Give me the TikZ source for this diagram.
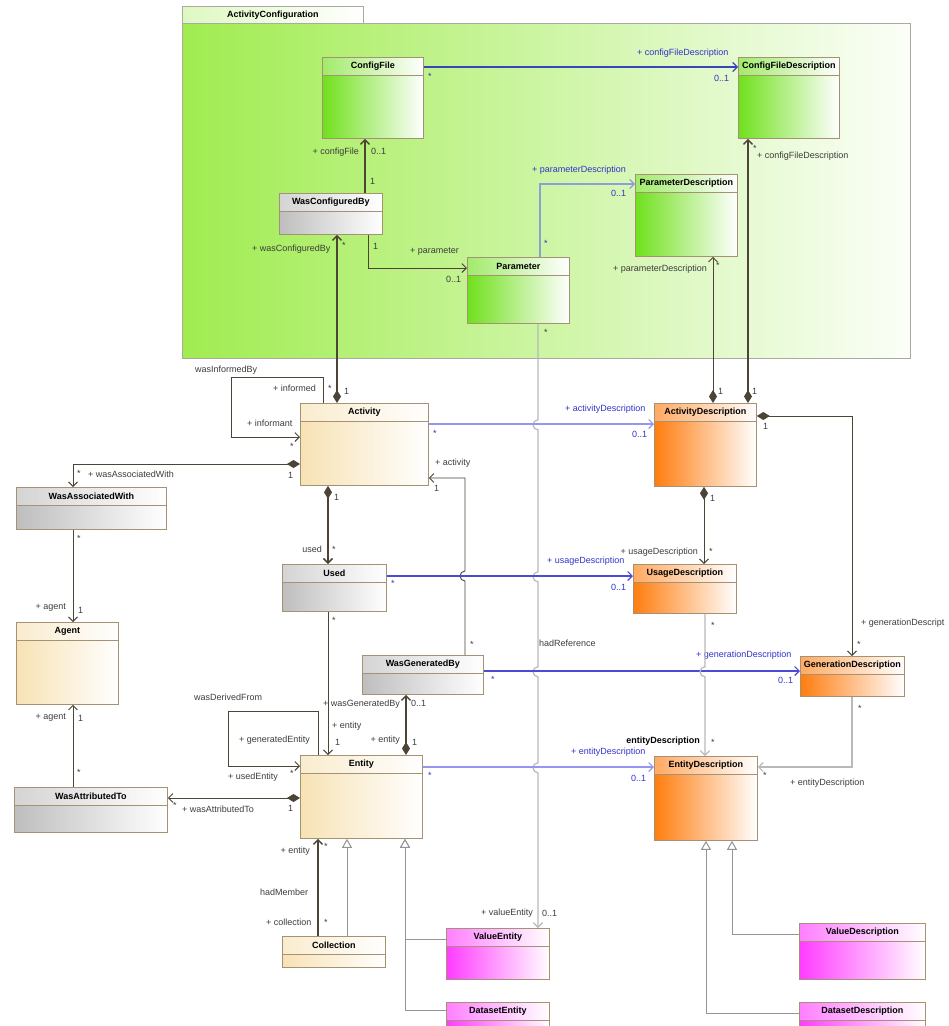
\documentclass[tikz,border=0pt]{standalone}
\usepackage{fontspec}
\setmainfont{Liberation Sans}
\usetikzlibrary{arrows.meta}

\definecolor{classborder}{RGB}{165,145,115}
\definecolor{pkgborder}{RGB}{170,170,160}
\definecolor{linedark}{RGB}{75,68,55}
\definecolor{linegray}{RGB}{185,185,185}
\definecolor{blueA}{RGB}{55,70,185}
\definecolor{blueB}{RGB}{150,150,240}
\definecolor{blueC}{RGB}{75,75,215}
\definecolor{blueD}{RGB}{140,160,215}
\definecolor{labelblue}{RGB}{50,50,200}
\definecolor{labelgray}{RGB}{60,60,60}
\definecolor{cgreen}{RGB}{112,224,28}
\definecolor{corange}{RGB}{255,125,15}
\definecolor{cmagenta}{RGB}{255,60,255}
\definecolor{cbeige}{RGB}{247,226,180}
\definecolor{cgray}{RGB}{190,190,190}
\definecolor{pkggreen}{RGB}{160,236,80}

\tikzstyle{classbox}=[draw=classborder, line width=.8pt, anchor=north west, inner sep=0pt]
\tikzstyle{classline}=[classborder, line width=.6pt]
\tikzstyle{classname}=[font=\fontsize{9}{10}\selectfont\bfseries, inner sep=0pt, text=black]
\tikzstyle{pkgtab}=[draw=pkgborder, line width=.8pt, anchor=north west, inner sep=0pt, left color=pkggreen!35!white, right color=white]
\tikzstyle{pkgbody}=[draw=pkgborder, line width=.8pt, anchor=north west, inner sep=0pt, left color=pkggreen, right color=pkggreen!4!white]
\tikzstyle{lbl}=[font=\fontsize{9}{10}\selectfont, inner sep=0pt, text=labelgray, anchor=west]
\tikzstyle{bluelbl}=[lbl, text=labelblue]
\tikzstyle{assoc}=[linedark, line width=.9pt, -{Straight Barb[length=4.5pt,width=9pt]}]
\tikzstyle{thickassoc}=[linedark, line width=1.4pt, -{Straight Barb[length=4.5pt,width=9pt]}]
\tikzstyle{comp}=[linedark, line width=1.5pt, {Diamond[length=13pt,width=8pt]}-{Straight Barb[length=4.5pt,width=9pt]}]
\tikzstyle{compthin}=[linedark, line width=.9pt, {Diamond[length=13pt,width=8pt]}-{Straight Barb[length=4.5pt,width=9pt]}]
\tikzstyle{grayline}=[linegray, line width=1.2pt, -{Straight Barb[length=4.5pt,width=9pt]}]
\tikzstyle{blueline}=[line width=1.1pt, -{Straight Barb[length=4.5pt,width=9pt]}]
\tikzstyle{gen}=[linegray!80!black, line width=1pt, -{Triangle[open, length=9pt, width=10pt, fill=white]}]
\tikzstyle{hop}=[insert path={arc[start angle=90, end angle=270, radius=5pt]}]
\tikzstyle{hopup}=[insert path={arc[start angle=270, end angle=90, radius=5pt]}]

\newcommand{\umlclass}[7]{
  \node[classbox, left color=#2, right color=white, minimum width=#5pt, minimum height=#6pt] (#1) at (#3,#4) {};
  \fill[white, opacity=.35] ([shift={(.5pt,-.5pt)}]#1.north west) rectangle ([shift={(-.5pt,-18pt)}]#1.north east);
  \draw[classline] ([yshift=-18pt]#1.north west) -- ([yshift=-18pt]#1.north east);
  \node[classname] (#1-name) at ([yshift=-9pt]#1.north) {#7};
}

\begin{document}
\begin{tikzpicture}[x=1pt, y=-1pt]
  \useasboundingbox (0,0) rectangle (949,1026);
  \clip (0,0) rectangle (949,1026);
  \node[pkgtab, minimum width=181pt, minimum height=17pt] (pkgTab) at (182,6) {};
  \node[classname] (pkgName) at (pkgTab.center) {ActivityConfiguration};
  \node[pkgbody, minimum width=728pt, minimum height=335pt] (pkg) at (182,23) {};

  \umlclass{ConfigFile}{cgreen}{322}{57}{101}{81}{ConfigFile}
  \umlclass{ConfigFileDescription}{cgreen}{738}{57}{101}{81}{ConfigFileDescription}
  \umlclass{WasConfiguredBy}{cgray}{279}{193}{103}{41}{WasConfiguredBy}
  \umlclass{Parameter}{cgreen}{467}{257}{102}{66}{Parameter}
  \umlclass{ParameterDescription}{cgreen}{635}{174}{102}{82}{ParameterDescription}
  \umlclass{Activity}{cbeige}{300}{403}{128}{82}{Activity}
  \umlclass{ActivityDescription}{corange}{654}{403}{102}{83}{ActivityDescription}
  \umlclass{WasAssociatedWith}{cgray}{16}{487}{150}{42}{WasAssociatedWith}
  \umlclass{Used}{cgray}{282}{564}{104}{47}{Used}
  \umlclass{UsageDescription}{corange}{633}{564}{103}{49}{UsageDescription}
  \umlclass{Agent}{cbeige}{16}{622}{102}{82}{Agent}
  \umlclass{WasGeneratedBy}{cgray}{362}{655}{121}{39}{WasGeneratedBy}
  \umlclass{GenerationDescription}{corange}{800}{656}{104}{40}{GenerationDescription}
  \umlclass{Entity}{cbeige}{300}{755}{122}{83}{Entity}
  \umlclass{EntityDescription}{corange}{654}{756}{103}{84}{EntityDescription}
  \umlclass{WasAttributedTo}{cgray}{14}{787}{153}{45}{WasAttributedTo}
  \umlclass{Collection}{cbeige}{282}{936}{103}{31}{Collection}
  \umlclass{ValueEntity}{cmagenta}{446}{928}{103}{51}{ValueEntity}
  \umlclass{DatasetEntity}{cmagenta}{446}{1002}{103}{40}{DatasetEntity}
  \umlclass{ValueDescription}{cmagenta}{799}{923}{126}{56}{ValueDescription}
  \umlclass{DatasetDescription}{cmagenta}{799}{1002}{126}{40}{DatasetDescription}

  % configuration package
  \draw[blueline, blueA] ([yshift=-10pt]ConfigFile.north east) coordinate (cfA) -- (cfA -| ConfigFileDescription.west);
  \node[bluelbl] (cfStar) at (428,76) {*};
  \node[bluelbl] (cfdRole) at (637,53) {+ configFileDescription};
  \node[bluelbl] (cfdMult) at (714,78) {0..1};

  \draw[thickassoc] ([xshift=86pt]WasConfiguredBy.north west) coordinate (wcA) -- (wcA |- ConfigFile.south);
  \node[lbl, anchor=east] (cfRole) at (359,152) {+ configFile};
  \node[lbl] (cfMult) at (371,151) {0..1};
  \node[lbl] (wcOne) at (370,181) {1};

  \draw[assoc] ([xshift=89pt]WasConfiguredBy.south west) |- ([yshift=-11pt]Parameter.north west);
  \node[lbl] (wpOne) at (373,246) {1};
  \node[lbl] (parRole) at (410,252) {+ parameter};
  \node[lbl] (parMult) at (446,279) {0..1};

  \draw[blueline, blueD] ([xshift=73pt]Parameter.north west) |- ([yshift=-10pt]ParameterDescription.north west);
  \node[bluelbl] (ppStar) at (544,243) {*};
  \node[bluelbl] (pdRole) at (532,170) {+ parameterDescription};
  \node[bluelbl] (pdMult) at (611,193) {0..1};

  \draw[grayline] ([xshift=71pt]Parameter.south west) coordinate (hrA) -- ++(0,96) [hop] -- ++(0,142) [hop] -- ++(0,85) [hop] -- ++(0,86) [hop] -- (hrA |- ValueEntity.north);
  \node[lbl] (hrStar) at (544,332) {*};
  \node[lbl] (hrName) at (539,643) {hadReference};
  \node[lbl] (veRole) at (481,913) {+ valueEntity};
  \node[lbl] (veMult) at (542,913) {0..1};

  % activity
  \draw[blueline, blueB] ([yshift=-21pt]Activity.north east) coordinate (adA) -- (adA -| ActivityDescription.west);
  \node[bluelbl] (adStar) at (433,433) {*};
  \node[bluelbl] (adRole) at (565,409) {+ activityDescription};
  \node[bluelbl] (adMult) at (632,434) {0..1};

  \draw[assoc] ([xshift=23pt]Activity.north west) -- ++(0,-26) -- ++(-92,0) -- ++(0,60) -- ([yshift=-34pt]Activity.north west);
  \node[lbl] (wibName) at (195,370) {wasInformedBy};
  \node[lbl] (wibInformed) at (273,388) {+ informed};
  \node[lbl] (wibInformant) at (247,423) {+ informant};
  \node[lbl] (wibStarA) at (290,446) {*};
  \node[lbl] (wibStarB) at (328,388) {*};

  \draw[comp] ([xshift=37pt]Activity.north west) coordinate (acA) -- (acA |- WasConfiguredBy.south);
  \node[lbl] (wcRole) at (252,249) {+ wasConfiguredBy};
  \node[lbl] (wcStar) at (342,245) {*};
  \node[lbl] (acOne) at (344,391) {1};

  \draw[compthin] ([yshift=-61pt]Activity.north west) -| ([xshift=57pt]WasAssociatedWith.north west);
  \node[lbl] (awOne) at (288,475) {1};
  \node[lbl] (awStar) at (77,473) {*};
  \node[lbl] (awRole) at (88,474) {+ wasAssociatedWith};

  \draw[assoc] ([xshift=57pt]WasAssociatedWith.south west) coordinate (waA) -- (waA |- Agent.north);
  \node[lbl] (waStar) at (77,538) {*};
  \node[lbl, anchor=east] (waRole) at (66,608) {+ agent};
  \node[lbl] (waOne) at (78,610) {1};

  \draw[assoc] ([xshift=59pt]WasAttributedTo.north west) coordinate (watA) -- (watA |- Agent.south);
  \node[lbl, anchor=east] (atRole) at (66,718) {+ agent};
  \node[lbl] (atOne) at (78,718) {1};
  \node[lbl] (atStar) at (77,772) {*};

  \draw[compthin] ([yshift=-43pt]Entity.north west) coordinate (enA) -- (enA -| WasAttributedTo.east);
  \node[lbl] (etOne) at (288,808) {1};
  \node[lbl] (etStar) at (173,805) {*};
  \node[lbl] (etRole) at (182,809) {+ wasAttributedTo};

  \draw[comp] ([xshift=28pt]Activity.south west) coordinate (usA) -- (usA |- Used.north);
  \node[lbl] (usOne) at (334,497) {1};
  \node[lbl, anchor=east] (usName) at (322,549) {used};
  \node[lbl] (usStar) at (332,549) {*};

  \draw[assoc] ([xshift=46pt]Used.south west) coordinate (ueA) -- (ueA |- Entity.north);
  \node[lbl] (ueStar) at (332,620) {*};
  \node[lbl] (ueRole) at (332,726) {+ entity};
  \node[lbl] (ueOne) at (335,742) {1};

  \draw[comp] ([xshift=106pt]Entity.north west) coordinate (egA) -- (egA |- WasGeneratedBy.south);
  \node[lbl, anchor=east] (egRole) at (400,704) {+ wasGeneratedBy};
  \node[lbl] (egMult) at (411,703) {0..1};
  \node[lbl, anchor=east] (egEntity) at (400,740) {+ entity};
  \node[lbl] (egOne) at (412,742) {1};

  \draw[assoc] ([xshift=18pt]Entity.north west) -- ++(0,-44) -- ++(-90,0) -- ++(0,55) -- ([yshift=-11pt]Entity.north west);
  \node[lbl] (wdfName) at (194,697) {wasDerivedFrom};
  \node[lbl] (wdfGen) at (239,740) {+ generatedEntity};
  \node[lbl] (wdfUsed) at (228,777) {+ usedEntity};
  \node[lbl] (wdfStar) at (290,773) {*};

  \draw[assoc] ([xshift=103pt]WasGeneratedBy.north west) -- ++(0,-74) [hopup] -- ++(0,-93) -- ([yshift=-75pt]Activity.north east);
  \node[lbl] (gaStar) at (470,644) {*};
  \node[lbl] (gaRole) at (435,463) {+ activity};
  \node[lbl] (gaOne) at (434,488) {1};

  % descriptions
  \draw[blueline, blueB] ([yshift=-12pt]Entity.north east) coordinate (edA) -- (edA -| EntityDescription.west);
  \node[bluelbl] (edStar) at (428,775) {*};
  \node[bluelbl] (edRole) at (571,752) {+ entityDescription};
  \node[bluelbl] (edMult) at (631,778) {0..1};

  \draw[blueline, blueC] ([yshift=-12pt]Used.north east) coordinate (udA) -- (udA -| UsageDescription.west);
  \node[bluelbl] (udStar) at (391,583) {*};
  \node[bluelbl] (udRole) at (547,561) {+ usageDescription};
  \node[bluelbl] (udMult) at (611,587) {0..1};

  \draw[blueline, blueC] ([yshift=-16pt]WasGeneratedBy.north east) coordinate (gdA) -- (gdA -| GenerationDescription.west);
  \node[bluelbl] (gdStar) at (491,679) {*};
  \node[bluelbl] (gdRole) at (696,655) {+ generationDescription};
  \node[bluelbl] (gdMult) at (778,680) {0..1};

  \draw[compthin] ([xshift=50pt]ActivityDescription.south west) coordinate (auA) -- (auA |- UsageDescription.north);
  \node[lbl] (auOne) at (710,498) {1};
  \node[lbl, anchor=east] (auRole) at (698,552) {+ usageDescription};
  \node[lbl] (auStar) at (709,551) {*};

  \draw[compthin] ([yshift=-13pt]ActivityDescription.north east) -| ([xshift=52pt]GenerationDescription.north west);
  \node[lbl] (agOne) at (763,426) {1};
  \node[lbl] (agRole) at (861,623) {+ generationDescript};
  \node[lbl] (agStar) at (857,644) {*};

  \draw[grayline] ([xshift=72pt]UsageDescription.south west) coordinate (ueB) -- ++(0,53) [hop] -- (ueB |- EntityDescription.north);
  \node[lbl] (ueStarA) at (711,625) {*};
  \node[classname, anchor=east] (ueName) at (700,741) {entityDescription};
  \node[lbl] (ueStarB) at (711,742) {*};

  \draw[grayline] ([xshift=52pt]GenerationDescription.south west) |- ([yshift=-11pt]EntityDescription.north east);
  \node[lbl] (geStarA) at (858,708) {*};
  \node[lbl] (geStarB) at (763,775) {*};
  \node[lbl] (geRole) at (790,783) {+ entityDescription};

  \draw[compthin] ([xshift=59pt]ActivityDescription.north west) coordinate (apA) -- (apA |- ParameterDescription.south);
  \node[lbl, anchor=east] (apRole) at (707,269) {+ parameterDescription};
  \node[lbl] (apStar) at (716,265) {*};
  \node[lbl] (apOne) at (718,391) {1};

  \draw[comp] ([xshift=94pt]ActivityDescription.north west) coordinate (acB) -- (acB |- ConfigFileDescription.south);
  \node[lbl] (acStar) at (753,148) {*};
  \node[lbl] (acRole) at (757,156) {+ configFileDescription};
  \node[lbl] (acOneB) at (752,391) {1};

  % members and subclasses
  \draw[thickassoc] ([xshift=36pt]Collection.north west) coordinate (hmA) -- (hmA |- Entity.south);
  \node[lbl, anchor=east] (hmEntity) at (310,851) {+ entity};
  \node[lbl] (hmStarA) at (324,846) {*};
  \node[lbl] (hmName) at (260,892) {hadMember};
  \node[lbl] (hmRole) at (266,922) {+ collection};
  \node[lbl] (hmStarB) at (324,922) {*};

  \draw[gen] ([xshift=65pt]Collection.north west) coordinate (gcA) -- (gcA |- Entity.south);
  \draw[gen] ([yshift=-11pt]ValueEntity.north west) -| ([xshift=105pt]Entity.south west);
  \draw[gen] ([yshift=-8pt]DatasetEntity.north west) -| ([xshift=105pt]Entity.south west);
  \draw[gen] ([yshift=-11pt]ValueDescription.north west) -| ([xshift=78pt]EntityDescription.south west);
  \draw[gen] ([yshift=-11pt]DatasetDescription.north west) -| ([xshift=52pt]EntityDescription.south west);
\end{tikzpicture}
\end{document}
